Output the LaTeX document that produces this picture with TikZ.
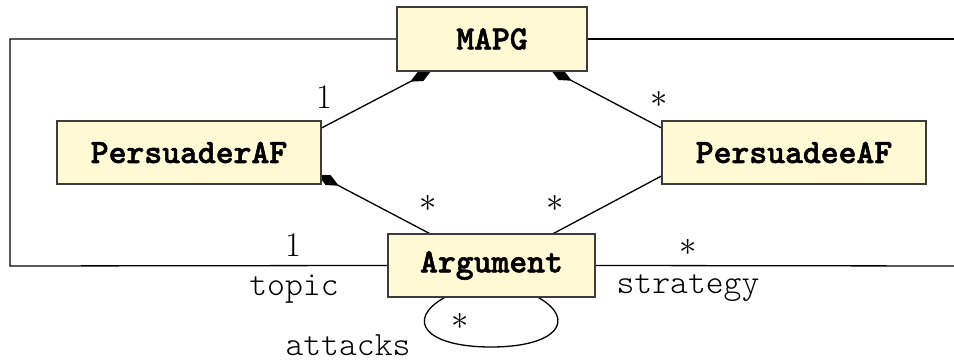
\documentclass[tikz,border=0pt]{standalone}
\usepackage{fontspec}
\newfontfamily\classfont[FakeBold=1.6]{lmmonolt10-bold.otf}
\newfontfamily\rolefont{lmmonolt10-regular.otf}
\usetikzlibrary{arrows.meta,backgrounds,calc}
\definecolor{classfill}{RGB}{255,250,212}
\definecolor{classline}{RGB}{60,60,60}
\tikzset{
  classbox/.style={draw=classline, fill=classfill, line width=0.55pt,
    inner sep=0pt, font=\classfont\fontsize{17}{19}\selectfont},
  assoc/.style={draw=black, line width=0.65pt},
  comp/.style={assoc, -{Diamond[length=12pt,width=5.5pt,fill=black]}},
  mult/.style={font=\fontsize{16}{18}\selectfont, inner sep=0pt},
  role/.style={font=\rolefont\fontsize{17}{19}\selectfont, inner sep=0pt},
}
\begin{document}
\begin{tikzpicture}[x=0.5pt,y=-0.5pt]
\useasboundingbox (0,0) rectangle (954,362);

% classes
\node[classbox, minimum width=95pt, minimum height=32pt] (mapg) at (492,39) {MAPG};
\node[classbox, minimum width=132pt, minimum height=31.5pt] (pr) at (189,152.5) {PersuaderAF};
\node[classbox, minimum width=132pt, minimum height=31.5pt] (pe) at (794,152.5) {PersuadeeAF};
\node[classbox, minimum width=103.5pt, minimum height=31.5pt] (arg) at (491.5,265.5) {Argument};

% frame corners and free ends
\coordinate (cl1) at (10,39);
\coordinate (cl2) at (10,266);
\coordinate (cr1) at (954,39);
\coordinate (cr2) at (954,266);

\begin{pgfonlayer}{background}
  % topic association wrapping round the left
  \draw[assoc] (mapg.west) -- (cl1) -- (cl2) -- (arg.west);
  % strategy association leaving to the right
  \draw[assoc] (mapg.east) -- (cr1);
  \draw[assoc] (arg.east) -- (cr2);
  % compositions
  \draw[comp] ($(pr.east)+(0,-24.5)$) -- ($(mapg.south west)+(35,-1)$);
  \draw[comp] ($(pe.west)+(0,-24.5)$) -- ($(mapg.south east)+(-37,-2)$);
  \draw[comp] ($(arg.north west)+(42,0)$) -- ($(pr.south east)+(-4,-10)$);
  \draw[assoc] ($(pe.west)+(0,23.5)$) -- ($(arg.north east)+(-42,0)$);
  % attacks self-association
  \draw[assoc] ($(arg.south west)+(57,0)$)
     .. controls (405,320) and (425,347) .. (491,347)
     .. controls (557,347) and (577,320) .. ($(arg.south east)+(-57,0)$);
\end{pgfonlayer}

% multiplicities
\node[mult] (m1) at (324,97) {$1$};
\node[mult] (m2) at (659,99) {$\ast$};
\node[mult] (m3) at (428,203) {$\ast$};
\node[mult] (m4) at (555,203) {$\ast$};
\node[mult] (m5) at (293,245) {$1$};
\node[mult] (m6) at (688,247) {$\ast$};
\node[mult] (m7) at (460,321) {$\ast$};

% role names
\node[role] (topic) at (294,289) {topic};
\node[role] (strategy) at (688,288) {strategy};
\node[role] (attacks) at (348,345.5) {attacks};
\end{tikzpicture}
\end{document}
